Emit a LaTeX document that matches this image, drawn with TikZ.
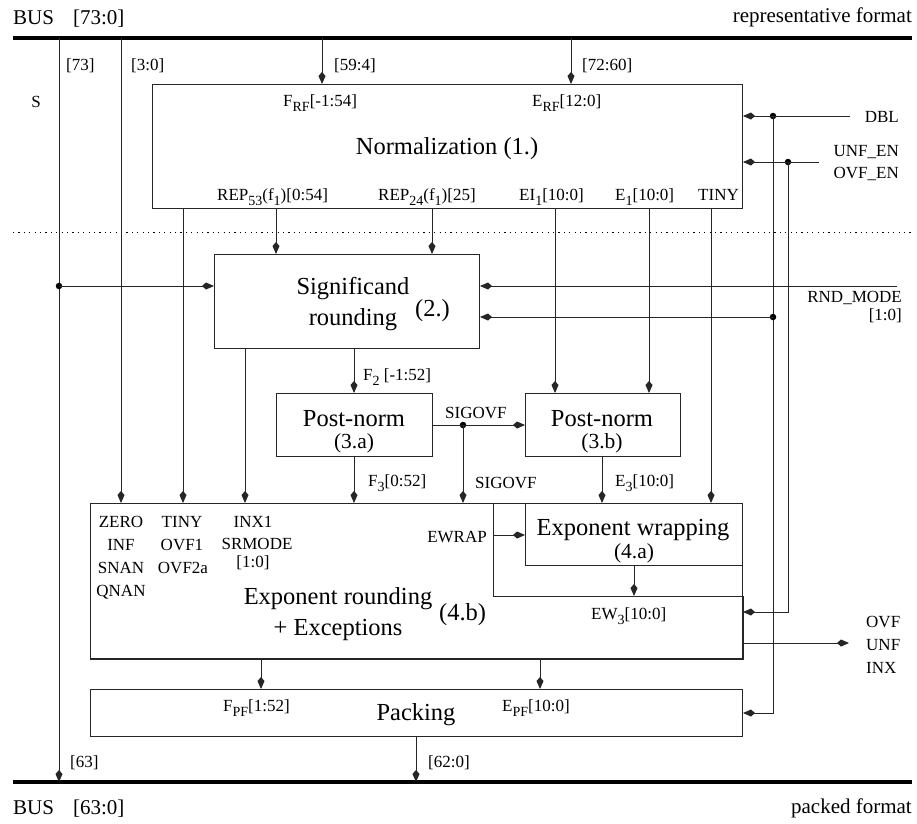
\documentclass[tikz,border=0pt]{standalone}
\usepackage{fontspec}
\setmainfont{Liberation Serif}
\usetikzlibrary{arrows.meta}
\newcommand\sigsize{\fontsize{17}{19}\selectfont}
\newcommand\hdsize{\fontsize{21}{24}\selectfont}
\newcommand\bigsize{\fontsize{24.5}{27}\selectfont}
\newcommand\midsize{\fontsize{21.5}{24}\selectfont}
% subscript for signal names
\newcommand\sbs[1]{\raisebox{-5pt}{\fontsize{14}{14}\selectfont #1}}
\begin{document}
\begin{tikzpicture}[x=1pt,y=-1pt,
  wire/.style={line width=1pt,draw=black!85},
  arr/.style={wire,-{Kite[length=12pt,width=7pt,inset=4pt]}},
  bus/.style={line width=3.6pt,black},
  box/.style={wire,rectangle,inner sep=0pt,anchor=north west},
  jdot/.style={circle,fill=black,inner sep=0pt,minimum size=6.5pt},
  sig/.style={font=\sigsize,inner sep=0pt},
  hd/.style={font=\hdsize,inner sep=0pt},
  title/.style={font=\bigsize,inner sep=0pt},
  num/.style={font=\midsize,inner sep=0pt}]
\useasboundingbox (0,0) rectangle (917,823);

% buses
\coordinate (busTL) at (13,38);   \coordinate (busTR) at (912,38);
\coordinate (busBL) at (13,782);  \coordinate (busBR) at (912,782);
\draw[bus] (busTL) -- (busTR);
\draw[bus] (busBL) -- (busBR);
\draw[line width=0.9pt,dash pattern=on 1.1pt off 4.3pt] (13,232) -- (912,232);

\node[hd,anchor=base west] (topbus) at (13,24) {BUS\hspace{19pt}[73:0]};
\node[hd,anchor=base east] (topfmt) at (912,22) {representative format};
\node[hd,anchor=base west] (botbus) at (13,814) {BUS\hspace{19pt}[63:0]};
\node[hd,anchor=base east] (botfmt) at (912,813) {packed format};

% blocks
\node[box,draw,minimum width=590pt,minimum height=124pt] (norm) at (152,84) {};
\node[box,draw,minimum width=265pt,minimum height=94pt] (sigr) at (214,254) {};
\node[box,draw,minimum width=156pt,minimum height=63pt] (pna) at (276,393) {};
\node[box,draw,minimum width=155pt,minimum height=63pt] (pnb) at (525,393) {};
\node[box,draw,minimum width=217pt,minimum height=62pt] (ewr) at (525,503) {};
\node[box,minimum width=652pt,minimum height=155pt] (exr) at (90,503) {};
\node[box,draw,minimum width=652pt,minimum height=47pt] (pack) at (90,689) {};
\coordinate (notch) at (493,596);
\draw[wire] (exr.north west) -- (exr.north west -| notch) -- (notch)
  -- (notch -| exr.east) -- (exr.south east) -- (exr.south west) -- cycle;

% column positions of the vertical wires
\coordinate (cS) at (59,0);     \coordinate (cSpec) at (121,0);
\coordinate (cTiny) at (183,0); \coordinate (cInx) at (245,0);
\coordinate (cFrf) at (322,0);  \coordinate (cErf) at (571,0);
\coordinate (cR53) at (276,0);  \coordinate (cR24) at (432,0);
\coordinate (cF) at (354,0);    \coordinate (cSov) at (463,0);
\coordinate (cEI) at (555,0);   \coordinate (cE1) at (649,0);
\coordinate (cE3) at (602,0);   \coordinate (cT) at (711,0);
\coordinate (cEW) at (634,0);   \coordinate (cDbl) at (773,0);
\coordinate (cUnf) at (788,0);  \coordinate (cFpf) at (261,0);
\coordinate (cEpf) at (540,0);  \coordinate (cPk) at (416,0);

% bus taps
\draw[arr] (busTL -| cS) -- (busBL -| cS);
\draw[arr] (busTL -| cSpec) -- (exr.north -| cSpec);
\draw[arr] (busTL -| cFrf) -- (norm.north -| cFrf);
\draw[arr] (busTL -| cErf) -- (norm.north -| cErf);
\draw[arr] (pack.south -| cPk) -- (busBL -| cPk);

% normalization outputs
\draw[arr] (norm.south -| cTiny) -- (exr.north -| cTiny);
\draw[arr] (norm.south -| cR53) -- (sigr.north -| cR53);
\draw[arr] (norm.south -| cR24) -- (sigr.north -| cR24);
\draw[arr] (norm.south -| cEI) -- (pnb.north -| cEI);
\draw[arr] (norm.south -| cE1) -- (pnb.north -| cE1);
\draw[arr] (norm.south -| cT) -- (ewr.north -| cT);

% sign into significand rounding
\coordinate (sRow) at (0,286);
\node[jdot] (sdot) at (cS |- sRow) {};
\draw[arr] (sdot.center) -- (sdot -| sigr.west);

% significand rounding outputs
\draw[arr] (sigr.south -| cInx) -- (exr.north -| cInx);
\draw[arr] (sigr.south -| cF) -- (pna.north -| cF);

% post-normalization
\coordinate (sovRow) at (0,425);
\node[jdot] (sovdot) at (cSov |- sovRow) {};
\draw[arr] (pna.east |- sovRow) -- (pnb.west |- sovRow);
\draw[arr] (sovdot.center) -- (exr.north -| cSov);
\draw[arr] (pna.south -| cF) -- (exr.north -| cF);
\draw[arr] (pnb.south -| cE3) -- (ewr.north -| cE3);

% exponent wrapping
\coordinate (ewRow) at (0,535);
\draw[arr] (notch |- ewRow) -- (ewr.west |- ewRow);
\draw[arr] (ewr.south -| cEW) -- (notch -| cEW);

% packing inputs
\draw[arr] (exr.south -| cFpf) -- (pack.north -| cFpf);
\draw[arr] (exr.south -| cEpf) -- (pack.north -| cEpf);

% control inputs on the right
\coordinate (dblIn) at (850,116);
\node[jdot] (dbldot) at (dblIn -| cDbl) {};
\draw[arr] (dblIn) -- (dblIn -| norm.east);
\draw[arr] (dbldot.center) |- (pack.east);
\coordinate (enIn) at (819,162);
\node[jdot] (endot) at (enIn -| cUnf) {};
\draw[arr] (enIn) -- (enIn -| norm.east);
\coordinate (enRow) at (0,612);
\draw[arr] (endot.center) |- (exr.east |- enRow);
\coordinate (rndIn) at (897,286);
\draw[arr] (rndIn) -- (rndIn -| sigr.east);
\coordinate (rnd2Row) at (0,317);
\node[jdot] (rnddot) at (cDbl |- rnd2Row) {};
\draw[arr] (rnddot.center) -- (rnddot -| sigr.east);
\coordinate (flagsOut) at (849,643);
\draw[arr] (flagsOut -| exr.east) -- (flagsOut);

% bus tap labels
\node[sig,anchor=base west] (l73) at (66,70) {[73]};
\node[sig,anchor=base west] (l30) at (131,70) {[3:0]};
\node[sig,anchor=base west] (l594) at (334,70) {[59:4]};
\node[sig,anchor=base west] (l7260) at (582,70) {[72:60]};
\node[sig,anchor=base] (lS) at (36,107) {S};
\node[sig,anchor=base west] (l63) at (70,767) {[63]};
\node[sig,anchor=base west] (l620) at (428,767) {[62:0]};

% normalization
\node[sig,anchor=base west] (lfrf) at (283,106) {F\sbs{RF}[-1:54]};
\node[sig,anchor=base west] (lerf) at (532,106) {E\sbs{RF}[12:0]};
\node[title,anchor=base] (tnorm) at (447,154) {Normalization (1.)};
\node[sig,anchor=base west] (lrep53) at (217,200) {REP\sbs{53}(f\sbs{1})[0:54]};
\node[sig,anchor=base west] (lrep24) at (378,200) {REP\sbs{24}(f\sbs{1})[25]};
\node[sig,anchor=base west] (lei) at (519,200) {EI\sbs{1}[10:0]};
\node[sig,anchor=base west] (le1) at (615,200) {E\sbs{1}[10:0]};
\node[sig,anchor=base east] (ltiny) at (739,200) {TINY};

% right side signals
\node[sig,anchor=base east] (ldbl) at (899,122) {DBL};
\node[sig,anchor=base east] (lunfen) at (899,156) {UNF\_EN};
\node[sig,anchor=base east] (lovfen) at (899,178) {OVF\_EN};
\node[sig,anchor=base east] (lrnd) at (902,302) {RND\_MODE};
\node[sig,anchor=base east] (lrnd10) at (902,320) {[1:0]};
\node[sig,anchor=base west] (lovf) at (866,627) {OVF};
\node[sig,anchor=base west] (lunf) at (866,650) {UNF};
\node[sig,anchor=base west] (linx) at (866,673) {INX};

% significand rounding
\node[title,anchor=base] (tsig1) at (353,294) {Significand};
\node[title,anchor=base] (tsig2) at (353,325) {rounding};
\node[title,anchor=base west] (tsig3) at (415,316) {(2.)};
\node[sig,anchor=base west] (lf2) at (363,380) {F\sbs{2} [-1:52]};

% post-normalization
\node[title,anchor=base] (tpna) at (354,426) {Post-norm};
\node[num,anchor=base] (npna) at (354,448) {(3.a)};
\node[title,anchor=base] (tpnb) at (602,426) {Post-norm};
\node[num,anchor=base] (npnb) at (602,448) {(3.b)};
\node[sig,anchor=base west] (lsov1) at (445,418) {SIGOVF};
\node[sig,anchor=base west] (lsov2) at (475,488) {SIGOVF};
\node[sig,anchor=base west] (lf3) at (368,486) {F\sbs{3}[0:52]};
\node[sig,anchor=base west] (le3) at (615,486) {E\sbs{3}[10:0]};

% exponent rounding
\node[sig,anchor=base] (lzero) at (121,527) {ZERO};
\node[sig,anchor=base] (linf) at (121,550) {INF};
\node[sig,anchor=base] (lsnan) at (121,573) {SNAN};
\node[sig,anchor=base] (lqnan) at (121,596) {QNAN};
\node[sig,anchor=base] (ltiny2) at (182,527) {TINY};
\node[sig,anchor=base] (lovf1) at (182,550) {OVF1};
\node[sig,anchor=base] (lovf2) at (183,573) {OVF2a};
\node[sig,anchor=base] (linx1) at (253,527) {INX1};
\node[sig,anchor=base] (lsrm) at (257,549) {SRMODE};
\node[sig,anchor=base] (lsrm10) at (253,567) {[1:0]};
\node[sig,anchor=base east] (lewrap) at (487,542) {EWRAP};
\node[title,anchor=base] (texr1) at (338,604) {Exponent rounding};
\node[title,anchor=base] (texr2) at (338,635) {+ Exceptions};
\node[title,anchor=base west] (texr3) at (439,620) {(4.b)};

% exponent wrapping
\node[title,anchor=base] (tewr) at (633,535) {Exponent wrapping};
\node[num,anchor=base] (newr) at (634,558) {(4.a)};
\node[sig,anchor=base west] (lew3) at (591,619) {EW\sbs{3}[10:0]};

% packing
\node[title,anchor=base] (tpack) at (416,720) {Packing};
\node[sig,anchor=base west] (lfpf) at (223,711) {F\sbs{PF}[1:52]};
\node[sig,anchor=base west] (lepf) at (502,711) {E\sbs{PF}[10:0]};
\end{tikzpicture}
\end{document}
